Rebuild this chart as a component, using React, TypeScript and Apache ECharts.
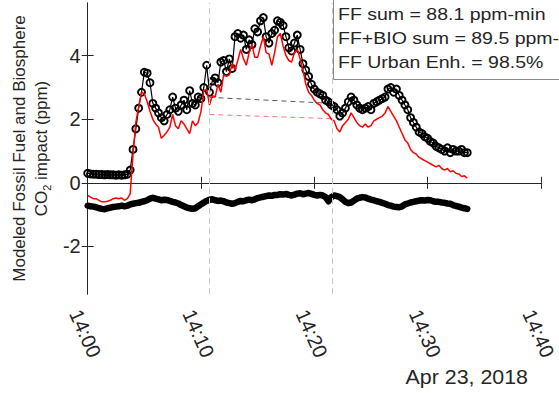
import React, { useEffect, useRef } from "react";
import * as echarts from "echarts";

// sample spacing of the measurement series, in minutes after 14:00
const SAMPLE_STEP_MIN = 0.25;

// FF + BIO modeled total (black open circles)
const totalCO2 = [
  0.30, 0.28, 0.27, 0.27, 0.26, 0.26, 0.25, 0.26,
  0.25, 0.25, 0.24, 0.25, 0.24, 0.25, 0.27, 0.40,
  1.05, 1.70, 2.35, 2.85, 3.48, 3.45, 3.15, 2.50,
  2.35, 2.20, 2.05, 1.95, 2.15, 2.30, 2.70, 2.35,
  2.25, 2.45, 2.60, 2.30, 2.90, 2.50, 2.45, 2.70,
  2.65, 3.00, 3.70, 2.85, 3.20, 3.30, 3.15, 3.80,
  3.85, 3.50, 3.90, 3.60, 4.60, 4.70, 4.55, 4.65,
  4.20, 4.50, 4.35, 4.85, 4.75, 5.10, 5.20, 4.60,
  4.40, 4.70, 4.80, 5.10, 5.05, 4.95, 4.60, 4.25,
  4.15, 4.40, 4.65, 4.20, 3.75, 3.55, 3.35, 3.10,
  2.95, 2.85, 2.80, 2.75, 2.60, 2.55, 2.45, 2.40,
  2.30, 2.10, 2.20, 2.35, 2.55, 2.70, 2.60, 2.45,
  2.35, 2.30, 2.35, 2.40, 2.30, 2.50, 2.55, 2.60,
  2.65, 2.70, 2.95, 3.00, 2.85, 2.95, 2.75, 2.60,
  2.45, 2.30, 2.05, 1.90, 1.75, 1.60, 1.55, 1.45,
  1.40, 1.30, 1.25, 1.15, 1.10, 1.05, 1.00, 1.10,
  0.95, 1.05, 1.00, 1.00, 1.05, 0.95, 0.95,
];

// fossil fuel component (red line)
const ffCO2 = [
  -0.40, -0.45, -0.50, -0.50, -0.55, -0.60, -0.60, -0.58,
  -0.55, -0.50, -0.48, -0.50, -0.48, -0.55, -0.50, -0.35,
  0.90, 1.90, 2.40, 2.85, 2.80, 2.55, 2.25, 2.00,
  1.85, 1.75, 1.40, 1.50, 1.60, 1.75, 2.15, 1.80,
  1.70, 1.95, 1.85, 1.70, 1.55, 1.95, 1.80, 1.90,
  2.25, 2.90, 2.95, 2.45, 2.75, 2.70, 3.10, 2.85,
  3.40, 3.35, 3.40, 3.75, 3.55, 3.85, 4.20, 3.90,
  3.70, 4.10, 4.35, 3.95, 3.95, 4.30, 4.60, 4.10,
  4.05, 3.70, 4.10, 4.60, 4.70, 4.30, 4.00, 3.85,
  3.80, 4.10, 4.20, 3.90, 3.55, 3.10, 2.85, 2.75,
  2.60, 2.50, 2.45, 2.30, 2.20, 2.15, 2.00, 1.95,
  1.70, 1.60, 1.80, 1.90, 2.00, 2.20, 2.05, 1.90,
  1.80, 1.75, 1.85, 1.75, 1.80, 1.95, 2.00, 2.05,
  2.10, 2.20, 2.40, 2.25, 2.10, 1.95, 1.75, 1.55,
  1.35, 1.25, 1.05, 0.95, 0.90, 0.80, 0.75, 0.70,
  0.65, 0.60, 0.55, 0.50, 0.55, 0.45, 0.40, 0.45,
  0.35, 0.38, 0.30, 0.28, 0.20, 0.22, 0.15,
];

// biosphere component (thick black line)
const bioCO2 = [
  -0.72, -0.74, -0.75, -0.77, -0.80, -0.82, -0.83, -0.80,
  -0.78, -0.76, -0.75, -0.74, -0.72, -0.74, -0.72, -0.68,
  -0.66, -0.64, -0.63, -0.60, -0.58, -0.55, -0.50, -0.47,
  -0.50, -0.52, -0.55, -0.53, -0.54, -0.57, -0.60, -0.62,
  -0.65, -0.70, -0.74, -0.78, -0.80, -0.82, -0.80, -0.74,
  -0.68, -0.62, -0.57, -0.53, -0.52, -0.55, -0.57, -0.56,
  -0.58, -0.62, -0.64, -0.66, -0.64, -0.60, -0.57, -0.58,
  -0.55, -0.53, -0.55, -0.52, -0.48, -0.46, -0.44, -0.42,
  -0.40, -0.41, -0.38, -0.38, -0.36, -0.37, -0.35, -0.38,
  -0.40, -0.37, -0.34, -0.33, -0.36, -0.34, -0.32, -0.35,
  -0.38, -0.40, -0.38, -0.40, -0.45, -0.58, -0.45, -0.40,
  -0.42, -0.45, -0.52, -0.60, -0.64, -0.62, -0.56, -0.50,
  -0.47, -0.45, -0.46, -0.50, -0.53, -0.55, -0.58, -0.60,
  -0.63, -0.66, -0.70, -0.72, -0.75, -0.76, -0.77, -0.74,
  -0.68, -0.65, -0.62, -0.60, -0.58, -0.56, -0.55, -0.56,
  -0.54, -0.55, -0.58, -0.60, -0.60, -0.62, -0.63, -0.65,
  -0.66, -0.70, -0.73, -0.75, -0.78, -0.80, -0.82,
];

const xTickLabels = ["14:00", "14:10", "14:20", "14:30", "14:40"];
const yTickValues = [-2, 0, 2, 4];
const windowBounds = [10.75, 21.6]; // minutes after 14:00
const totalBaseline = [2.69, 2.5];
const ffBaseline = [2.15, 2.02];
const infoLines = [
  "FF sum = 88.1 ppm-min",
  "FF+BIO sum = 89.5 ppm-min",
  "FF Urban Enh. = 98.5%",
];
const dateLabel = "Apr 23, 2018";
const yAxisTitle = "Modeled Fossil Fuel and Biosphere\nCO{sub|2} impact (ppm)";

export default function App() {
  const ref = useRef<HTMLDivElement>(null);

  useEffect(() => {
    document.body.style.margin = "0";
    const chart = echarts.init(ref.current!, null, { renderer: "svg" });
    const toPts = (arr: number[]) => arr.map((v, i) => [i * SAMPLE_STEP_MIN, v]);
    const font = "'Liberation Sans', Arial, Helvetica, sans-serif";
    const axisColor = "#262626";

    const boxAxisCommon = {
      axisLine: { show: true, lineStyle: { color: axisColor, width: 1 } },
      splitLine: { show: false },
    };

    chart.setOption({
      animation: false,
      backgroundColor: "#ffffff",
      grid: { left: 83, right: 14, top: 3, bottom: 99, containLabel: false },
      xAxis: [
        {
          type: "value",
          min: 0,
          max: 40,
          interval: 10,
          position: "bottom",
          ...boxAxisCommon,
          axisTick: { show: true, inside: true, length: 6, lineStyle: { color: axisColor } },
          axisLabel: {
            formatter: (v: number) => xTickLabels[Math.round(v / 10)] ?? "",
            rotate: -66,
            align: "center",
            verticalAlign: "middle",
            margin: 45,
            padding: [28, 12, 0, 0],
            fontSize: 20,
            color: axisColor,
            fontFamily: font,
          },
        },
        {
          type: "value",
          min: 0,
          max: 40,
          interval: 10,
          position: "top",
          ...boxAxisCommon,
          axisTick: { show: true, inside: true, length: 6, lineStyle: { color: axisColor } },
          axisLabel: { show: false },
        },
      ],
      yAxis: [
        {
          type: "value",
          min: -3.5,
          max: 5.66,
          position: "left",
          ...boxAxisCommon,
          axisTick: {
            show: true,
            inside: true,
            length: 6,
            customValues: yTickValues,
            lineStyle: { color: axisColor },
          },
          axisLabel: {
            customValues: yTickValues,
            fontSize: 20,
            margin: 7,
            color: axisColor,
            fontFamily: font,
          },
          name: yAxisTitle,
          nameLocation: "middle",
          nameGap: 33,
          nameRotate: 90,
          nameTextStyle: {
            fontSize: 17,
            lineHeight: 22,
            color: axisColor,
            fontFamily: font,
            rich: {
              sub: { fontSize: 11, lineHeight: 10, verticalAlign: "bottom", color: axisColor, fontFamily: font },
            },
          },
        },
        {
          type: "value",
          min: -3.5,
          max: 5.66,
          position: "right",
          ...boxAxisCommon,
          axisTick: {
            show: true,
            inside: true,
            length: 6,
            customValues: yTickValues,
            lineStyle: { color: axisColor },
          },
          axisLabel: { show: false },
        },
      ],
      series: [
        {
          name: "FF+BIO",
          type: "line",
          data: toPts(totalCO2),
          symbol: "circle",
          symbolSize: 7,
          showSymbol: true,
          showAllSymbol: true,
          itemStyle: { color: "rgba(0,0,0,0)", borderColor: "#000000", borderWidth: 1.9 },
          lineStyle: { color: "#000000", width: 1.2 },
          z: 3,
        },
        {
          name: "BIO",
          type: "line",
          data: toPts(bioCO2),
          symbol: "none",
          lineStyle: { color: "#000000", width: 6.5, cap: "round", join: "round" },
          z: 3,
        },
        {
          name: "FF",
          type: "line",
          data: toPts(ffCO2),
          symbol: "none",
          lineStyle: { color: "#ff0000", width: 1.5 },
          z: 4,
        },
        {
          name: "FF+BIO background",
          type: "line",
          data: windowBounds.map((t, i) => [t, totalBaseline[i]]),
          symbol: "none",
          lineStyle: { color: "#555555", width: 1, type: [5, 4] },
          z: 2,
          markLine: {
            silent: true,
            symbol: ["none", "none"],
            label: { show: false },
            lineStyle: { color: "#c8c8c8", width: 1, type: [6, 4] },
            data: windowBounds.map((t) => ({ xAxis: t })),
          },
        },
        {
          name: "FF background",
          type: "line",
          data: windowBounds.map((t, i) => [t, ffBaseline[i]]),
          symbol: "none",
          lineStyle: { color: "#f07878", width: 1, type: [5, 4] },
          z: 2,
        },
      ],
      graphic: [
        {
          type: "rect",
          z: 100,
          shape: { x: 333.5, y: -1, width: 260, height: 80.5 },
          style: { fill: "#ffffff", stroke: "#8a8a8a", lineWidth: 1 },
        },
        ...infoLines.map((line, i) => ({
          type: "text",
          z: 101,
          x: 338,
          y: 15 + i * 24,
          scaleX: 1.22,
          style: {
            text: line,
            fontSize: 16,
            fontFamily: font,
            fill: axisColor,
            align: "left",
            verticalAlign: "middle",
            textAlign: "left",
            textVerticalAlign: "middle",
          },
        })),
        {
          type: "text",
          z: 101,
          x: 528,
          y: 377,
          scaleX: 1.07,
          style: {
            text: dateLabel,
            fontSize: 20,
            fontFamily: font,
            fill: axisColor,
            align: "right",
            verticalAlign: "middle",
            textAlign: "right",
            textVerticalAlign: "middle",
          },
        },
      ],
    });

    return () => chart.dispose();
  }, []);

  return <div ref={ref} style={{ width: 559, height: 393 }} />;
}
